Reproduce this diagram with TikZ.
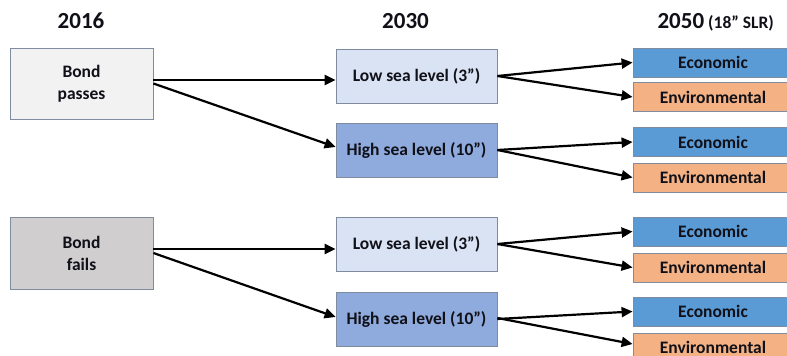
\documentclass[tikz,border=0pt]{standalone}
\usepackage{fontspec}
\setmainfont{Carlito}
\usetikzlibrary{arrows.meta}
\definecolor{bordc}{HTML}{7F8CA0}
\definecolor{txtc}{HTML}{101018}
\definecolor{passc}{HTML}{F2F2F2}
\definecolor{failc}{HTML}{D0CECE}
\definecolor{lowc}{HTML}{DAE3F3}
\definecolor{highc}{HTML}{8FAADC}
\definecolor{econc}{HTML}{5B9BD5}
\definecolor{envc}{HTML}{F4B183}
\begin{document}
\begin{tikzpicture}[x=1pt,y=-1pt,
  box/.style={draw=bordc, line width=0.8pt, inner sep=0pt, text=txtc, align=center,
    font=\bfseries\fontsize{17.5}{22}\selectfont},
  startbox/.style={box, minimum width=143pt, minimum height=71pt},
  midbox/.style={box, minimum width=161pt, minimum height=54pt},
  endbox/.style={box, minimum width=160pt, minimum height=29pt},
  title/.style={anchor=base, text=txtc, font=\bfseries\fontsize{23}{27}\selectfont},
  arr/.style={-{Triangle[length=11pt,width=10pt]}, line width=2.2pt, black}]
\useasboundingbox (0,0) rectangle (787,356);
\clip (0,0) rectangle (787,356);

\node[title] (t1) at (81,28) {2016};
\node[title] (t2) at (405.5,28) {2030};
\node[title, anchor=base west] (t3) at (654,28) {2050\hspace{4pt}{\fontsize{17.5}{20}\selectfont (18” SLR)}};

\node[startbox, fill=passc] (bp) at (81.5,83.5) {Bond\\passes};
\node[startbox, fill=failc, minimum height=72pt] (bf) at (81.5,253) {Bond\\fails};

\node[midbox, fill=lowc] (low1) at (416.5,76) {Low sea level (3”)};
\node[midbox, fill=highc] (high1) at (416.5,150) {High sea level (10”)};
\node[midbox, fill=lowc] (low2) at (416.5,244) {Low sea level (3”)};
\node[midbox, fill=highc] (high2) at (416.5,319) {High sea level (10”)};

\node[endbox, fill=econc] (ec1) at (713,62.5) {Economic};
\node[endbox, fill=envc] (en1) at (713,97) {Environmental};
\node[endbox, fill=econc] (ec2) at (713,142) {Economic};
\node[endbox, fill=envc] (en2) at (713,177.5) {Environmental};
\node[endbox, fill=econc] (ec3) at (713,231.5) {Economic};
\node[endbox, fill=envc] (en3) at (713,267.5) {Environmental};
\node[endbox, fill=econc] (ec4) at (713,311.5) {Economic};
\node[endbox, fill=envc] (en4) at (713,347.5) {Environmental};

\draw[arr] ([yshift=3.5pt]bp.east) -- ([yshift=-4pt]low1.west);
\draw[arr] (bp.east) -- ([yshift=3pt]high1.west);
\draw[arr] ([yshift=4pt]bf.east) -- ([yshift=-5pt]low2.west);
\draw[arr] (bf.east) -- ([yshift=2pt]high2.west);

\draw[arr] (low1.east) -- (ec1.west);
\draw[arr] (low1.east) -- (en1.west);
\draw[arr] (high1.east) -- (ec2.west);
\draw[arr] (high1.east) -- (en2.west);
\draw[arr] (low2.east) -- (ec3.west);
\draw[arr] (low2.east) -- (en3.west);
\draw[arr] (high2.east) -- (ec4.west);
\draw[arr] ([yshift=1pt]high2.east) -- ([yshift=3.5pt]en4.west);
\end{tikzpicture}
\end{document}
